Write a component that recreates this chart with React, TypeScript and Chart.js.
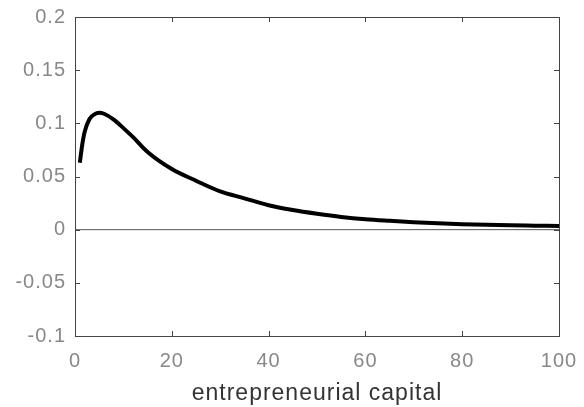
import React, { useEffect, useRef } from "react";
import { Chart, registerables } from "chart.js";

Chart.register(...registerables);

const capital = [1, 1.5, 2, 3, 4, 5, 6, 8, 10, 12, 15, 20, 25, 30, 35, 40, 45, 50, 55, 60, 65, 70, 75, 80, 85, 90, 95, 100];
const response = [0.063, 0.080, 0.092, 0.104, 0.1085, 0.110, 0.109, 0.1035, 0.0955, 0.087, 0.073, 0.057, 0.046, 0.036, 0.0295, 0.023, 0.0185, 0.015, 0.012, 0.0098, 0.0083, 0.0070, 0.0060, 0.0052, 0.0046, 0.0041, 0.0038, 0.0035];
const zeroX = [0, 100];
const zeroY = [0, 0];
const xTicks = [0, 20, 40, 60, 80, 100];
const yTicks = [-0.1, -0.05, 0, 0.05, 0.1, 0.15, 0.2];
const xTitle = "entrepreneurial capital";

const spacingPlugin = {
  id: "letterSpacing",
  beforeDraw(chart: any) {
    chart.ctx.letterSpacing = "1px";
  },
  beforeUpdate(chart: any) {
    chart.ctx.letterSpacing = "1px";
  },
};

const boxPlugin = {
  id: "matlabBox",
  afterDraw(chart: any) {
    const { ctx, chartArea } = chart;
    const xs = chart.scales.x;
    const ys = chart.scales.y;
    ctx.save();
    ctx.strokeStyle = "#444";
    ctx.lineWidth = 1;
    ctx.strokeRect(chartArea.left + 0.5, chartArea.top + 0.5, chartArea.right - chartArea.left, chartArea.bottom - chartArea.top);
    const len = 5;
    ctx.beginPath();
    xTicks.forEach((v) => {
      const px = Math.round(xs.getPixelForValue(v)) + 0.5;
      ctx.moveTo(px, chartArea.bottom);
      ctx.lineTo(px, chartArea.bottom - len);
      ctx.moveTo(px, chartArea.top);
      ctx.lineTo(px, chartArea.top + len);
    });
    yTicks.forEach((v) => {
      const py = Math.round(ys.getPixelForValue(v)) + 0.5;
      ctx.moveTo(chartArea.left, py);
      ctx.lineTo(chartArea.left + len, py);
      ctx.moveTo(chartArea.right, py);
      ctx.lineTo(chartArea.right - len, py);
    });
    ctx.stroke();
    ctx.restore();
  },
};

export default function App() {
  const ref = useRef<HTMLCanvasElement>(null);
  useEffect(() => {
    if (!ref.current) return;
    const chart = new Chart(ref.current, {
      type: "line",
      data: {
        datasets: [
          {
            data: capital.map((x, i) => ({ x, y: response[i] })),
            borderColor: "#000",
            borderWidth: 4,
            pointRadius: 0,
            cubicInterpolationMode: "monotone",
            fill: false,
          },
          {
            data: zeroX.map((x, i) => ({ x, y: zeroY[i] })),
            borderColor: "#555",
            borderWidth: 1,
            pointRadius: 0,
            fill: false,
          },
        ],
      },
      options: {
        responsive: false,
        animation: false,
        layout: { padding: { left: 0, right: 25, top: 17, bottom: 0 } },
        plugins: { legend: { display: false }, tooltip: { enabled: false } },
        scales: {
          x: {
            type: "linear",
            min: 0,
            max: 100,
            afterBuildTicks: (s: any) => {
              s.ticks = xTicks.map((v) => ({ value: v }));
            },
            afterFit: (s: any) => {
              s.height = 71;
              s.paddingLeft = 0;
              s.paddingRight = 0;
            },
            grid: { display: false, drawTicks: false },
            border: { display: false },
            ticks: {
              padding: 13,
              color: "#888",
              font: { family: "Liberation Sans", size: 20 },
              callback: (v: any) => String(v),
            },
            title: {
              display: true,
              text: xTitle,
              color: "#333",
              font: { family: "Liberation Sans", size: 23 },
              padding: { top: 0, bottom: 0 },
            },
          },
          y: {
            type: "linear",
            min: -0.1,
            max: 0.2,
            afterBuildTicks: (s: any) => {
              s.ticks = yTicks.map((v) => ({ value: v }));
            },
            afterFit: (s: any) => {
              s.width = 75;
              s.paddingTop = 0;
              s.paddingBottom = 0;
            },
            grid: { display: false, drawTicks: false },
            border: { display: false },
            ticks: {
              padding: 9,
              color: "#888",
              font: { family: "Liberation Sans", size: 20 },
              callback: (v: any) => String(Math.round(v * 100) / 100),
            },
          },
        },
      },
      plugins: [spacingPlugin, boxPlugin],
    });
    return () => chart.destroy();
  }, []);
  return (
    <div style={{ position: "absolute", left: 0, top: 0, width: 584, height: 407, background: "#fff" }}>
      <canvas ref={ref} width={584} height={407} />
    </div>
  );
}
